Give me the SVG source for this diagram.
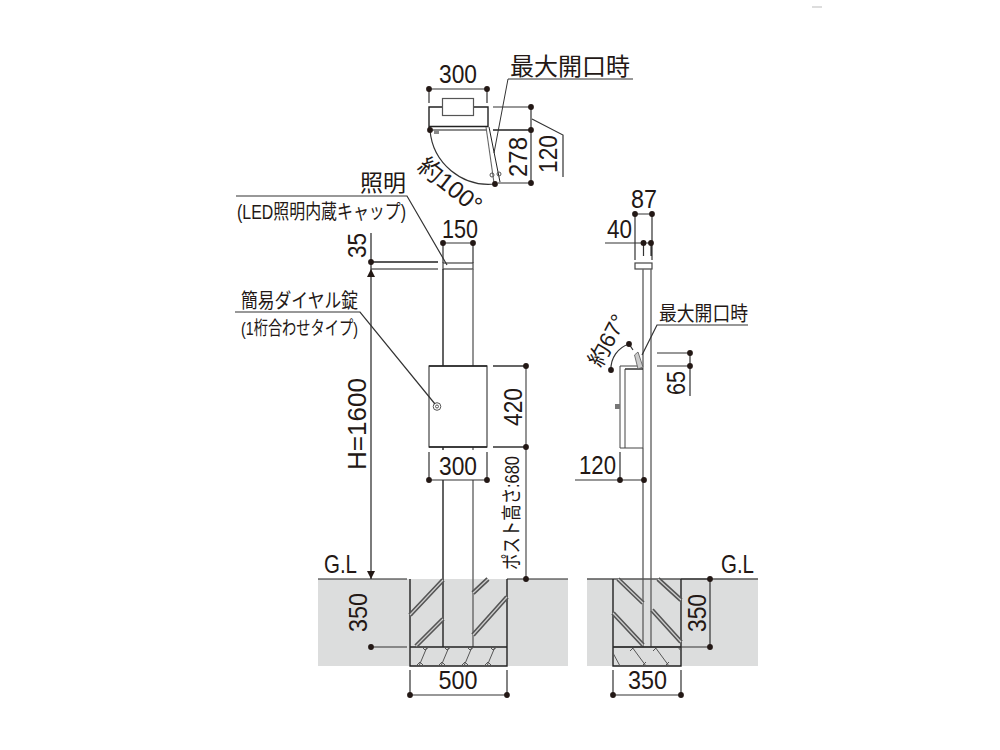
<svg xmlns="http://www.w3.org/2000/svg" width="1000" height="750" viewBox="0 0 1000 750">
<style>
text{font-family:"Liberation Sans","Noto Sans CJK JP",sans-serif;fill:#231815;font-size:25px}
.m{text-anchor:middle}
.l{fill:none;stroke:#333;stroke-width:1.2}
.b{fill:none;stroke:#222;stroke-width:1.4}
.g{fill:none;stroke:#666;stroke-width:1.4}
.t{fill:none;stroke:#555;stroke-width:1}
.h1{fill:none;stroke:#555;stroke-width:4.5}
.h2{fill:none;stroke:#ccc;stroke-width:1.3}
.d{fill:#231815}
.gr{fill:#dcdddd}
</style>
<defs>
<circle id="dot" r="2.9" class="d"/>
<path id="ar" d="M0 0L-4-8H4Z" class="d"/>
<g id="gv" class="t"><path d="M2 0L-6 19M-3 0L0 3L4 0M-9 19L-5 15L-1 19"/></g>
<g id="gv2" class="t"><path d="M-4 0L10 19M-6 4L-2 0M6 19L10 15"/></g>
</defs>
<path d="M812 7H822" stroke="#bbb" stroke-width="1"/>

<g id="ground">
<rect class="gr" x="318" y="579" width="250" height="87"/>
<rect class="gr" x="587" y="579" width="171" height="87"/>
</g>

<g id="top-view">
<path class="b" d="M429 130V107H442.500M473.500 107H488V127M429 126.500H488"/>
<rect class="t" x="442.500" y="98.500" width="31" height="17" style="stroke-width:1.2"/>
<path class="g" d="M430 130H487"/>
<rect x="434" y="130" width="5" height="4" fill="#888"/>
<path class="l" d="M430 130A59 59 0 0 0 495 184"/>
<path class="g" d="M486 127L494 183" style="stroke-width:1.1"/>
<path class="b" d="M489 127L500 182" style="stroke-width:1"/>
<circle class="t" cx="492" cy="175" r="2"/><circle class="t" cx="499" cy="174" r="2"/>
</g>

<g id="front-view">
<rect class="t" x="443" y="263" width="30" height="6" style="stroke:#444;stroke-width:1.2"/>
<path class="b" d="M443 269V366M443 447V450M443 480V647"/>
<path class="g" d="M473 269V366M473 447V450M473 480V647"/>
<rect class="t" x="429" y="366" width="58" height="81" style="stroke:#444;stroke-width:1.2"/>
<path class="b" d="M429 366H487M429 447H487"/>
<circle class="t" cx="437" cy="406.500" r="3.800"/><circle class="t" cx="437" cy="406.500" r="1.500"/>
</g>

<g id="front-foundation">
<path class="b" d="M410 579V666H507V579M410 647H507"/>
<path class="h1" d="M410 615L443 580M416 646L443 619M473 593L488 579M473 635L507 597"/>
<path class="h2" d="M410 615L443 580M416 646L443 619M473 593L488 579M473 635L507 597"/>
<use href="#gv" x="425" y="647"/><use href="#gv" x="447" y="647"/><use href="#gv" x="470" y="647"/><use href="#gv" x="493" y="647"/>
</g>

<g id="side-view">
<rect class="t" x="635" y="263" width="17" height="6" style="stroke:#444;stroke-width:1.2"/>
<path class="g" d="M643 269V366M651 269V647M643 448V647"/>
<path class="t" d="M620 366H643V448H620ZM625 369V448" style="stroke:#444"/>
<path class="b" d="M625 369H643"/>
<rect x="615" y="404" width="5" height="5" fill="#777"/>
<path d="M634.500 355L638 352L643 367L638 369Z" fill="#ccc" stroke="#555" stroke-width=".8"/>
<path class="l" d="M611 370A26 26 0 0 1 629 344L633 350"/>
</g>

<g id="side-foundation">
<path class="g" d="M587 579H758" style="stroke:#555"/>
<path class="b" d="M613 579V666H681V579M613 647H681"/>
<path class="h1" d="M618 579L643 603M613 613L643 645M658 579L681 600M652 610L681 642"/>
<path class="h2" d="M618 579L643 603M613 613L643 645M658 579L681 600M652 610L681 642"/>
<use href="#gv2" x="636" y="647"/><use href="#gv2" x="659" y="647"/><path class="t" d="M613 653L620 666M678 647L681 651"/>
</g>

<g id="connectors">
<path class="l" d="M429 89H487M429 89V103M487 89V103"/>
<path class="l" d="M493 107H531M531 107V183M498 183H531"/>
<path class="b" d="M493 130H531"/>
<path class="l" d="M633 79H508L494 153" style="stroke-width:1"/>
<path class="l" d="M532 119L563 135V177"/>
<path class="l" d="M236 196H407L447 265"/>
<path class="l" d="M443 243H473M443 243V263M473 243V263"/>
<path class="b" d="M371 262H438"/>
<path class="g" d="M371 269H438"/>
<path class="g" d="M371 233V579" style="stroke:#444"/>
<use href="#ar" transform="translate(371 269) rotate(180)"/>
<use href="#ar" x="371" y="579"/>
<path class="l" d="M235 312H360L435 404"/>
<path class="g" d="M526 366V579"/>
<path class="l" d="M493 366H526M493 447H526" style="stroke-width:1.500"/>
<path class="l" d="M429 452V480M487 452V480M429 480H487"/>
<path class="b" d="M371 579H407M318 579H371M507 579H568" style="stroke-width:1.100"/>
<path class="l" d="M371 647H407"/>
<path class="l" d="M410 670V695M507 670V695M410 695H507"/>
<path class="l" d="M635 214H652M635 214V260M652 214V260M605 243H652M643.500 243V256M651 243V256"/>
<path class="l" d="M748 325H657L642 355"/>
<path class="l" d="M657 353H690M657 366H690M690 353V396"/>
<path class="l" d="M575 480H643M620 452V480"/>
<path class="l" d="M710 579V647M613 647H710M681 579H710"/>
<path class="l" d="M613 670V695M681 670V695M613 695H681"/>
</g>

<g id="dots">
<use href="#dot" x="429" y="89"/><use href="#dot" x="487" y="89"/>
<use href="#dot" x="531" y="107"/><use href="#dot" x="531" y="130"/><use href="#dot" x="531" y="183"/>
<use href="#dot" x="430" y="130"/><use href="#dot" x="495" y="184"/>
<use href="#dot" x="443" y="243"/><use href="#dot" x="473" y="243"/>
<use href="#dot" x="371" y="262"/><use href="#dot" x="371" y="647"/>
<use href="#dot" x="526" y="366"/><use href="#dot" x="526" y="447"/><use href="#dot" x="526" y="579"/>
<use href="#dot" x="429" y="480"/><use href="#dot" x="487" y="480"/>
<use href="#dot" x="410" y="695"/><use href="#dot" x="507" y="695"/>
<use href="#dot" x="635" y="214"/><use href="#dot" x="652" y="214"/>
<use href="#dot" x="643.500" y="243"/><use href="#dot" x="651" y="243"/>
<use href="#dot" x="611" y="370"/><use href="#dot" x="629" y="344"/>
<use href="#dot" x="690" y="353"/><use href="#dot" x="690" y="366"/>
<use href="#dot" x="620" y="480"/><use href="#dot" x="644" y="480"/>
<use href="#dot" x="710" y="579"/><use href="#dot" x="710" y="647"/>
<use href="#dot" x="613" y="695"/><use href="#dot" x="681" y="695"/>
</g>

<g id="labels">
<text class="m" x="458" y="83" textLength="38" lengthAdjust="spacingAndGlyphs">300</text>
<text x="510" y="75" style="font-size:24px">最大開口時</text>
<text class="m" transform="translate(527 157) rotate(-90)" textLength="40" lengthAdjust="spacingAndGlyphs">278</text>
<text class="m" transform="translate(557 154) rotate(-90)" textLength="38" lengthAdjust="spacingAndGlyphs">120</text>
<text class="m" transform="translate(445 192) rotate(38)" style="font-size:24px">約100°</text>
<text x="360" y="191" style="font-size:23px">照明</text>
<text x="237" y="219" style="font-size:20px" textLength="169" lengthAdjust="spacingAndGlyphs">(LED照明内蔵キャップ)</text>
<text class="m" x="460" y="238" textLength="36" lengthAdjust="spacingAndGlyphs">150</text>
<text class="m" transform="translate(366 245.500) rotate(-90)" textLength="25" lengthAdjust="spacingAndGlyphs">35</text>
<text x="241" y="308" style="font-size:20px" textLength="117" lengthAdjust="spacingAndGlyphs">簡易ダイヤル錠</text>
<text x="241" y="335" style="font-size:19px" textLength="117" lengthAdjust="spacingAndGlyphs">(1桁合わせタイプ)</text>
<text class="m" transform="translate(366 424) rotate(-90)" textLength="92" lengthAdjust="spacingAndGlyphs">H=1600</text>
<text class="m" transform="translate(522 407) rotate(-90)" textLength="38" lengthAdjust="spacingAndGlyphs">420</text>
<text class="m" x="458" y="475" textLength="38" lengthAdjust="spacingAndGlyphs">300</text>
<text transform="translate(519 570) rotate(-90)" style="font-size:20px" textLength="114" lengthAdjust="spacingAndGlyphs">ポスト高さ:680</text>
<text x="324" y="573" textLength="33" lengthAdjust="spacingAndGlyphs">G.L</text>
<text class="m" transform="translate(367 612.500) rotate(-90)" textLength="39" lengthAdjust="spacingAndGlyphs">350</text>
<text class="m" x="458" y="689" textLength="39" lengthAdjust="spacingAndGlyphs">500</text>
<text class="m" x="644" y="208" textLength="26" lengthAdjust="spacingAndGlyphs">87</text>
<text class="m" x="619.500" y="238" textLength="25" lengthAdjust="spacingAndGlyphs">40</text>
<text x="659" y="321" style="font-size:20px" textLength="89" lengthAdjust="spacingAndGlyphs">最大開口時</text>
<text class="m" transform="translate(614 344) rotate(-62)" style="font-size:22px">約67°</text>
<text class="m" transform="translate(685 383) rotate(-90)" textLength="24" lengthAdjust="spacingAndGlyphs">65</text>
<text class="m" x="597.500" y="474" textLength="37" lengthAdjust="spacingAndGlyphs">120</text>
<text x="721" y="573" textLength="33" lengthAdjust="spacingAndGlyphs">G.L</text>
<text class="m" transform="translate(706 613) rotate(-90)" textLength="38" lengthAdjust="spacingAndGlyphs">350</text>
<text class="m" x="647.500" y="689" textLength="39" lengthAdjust="spacingAndGlyphs">350</text>
</g>
</svg>
